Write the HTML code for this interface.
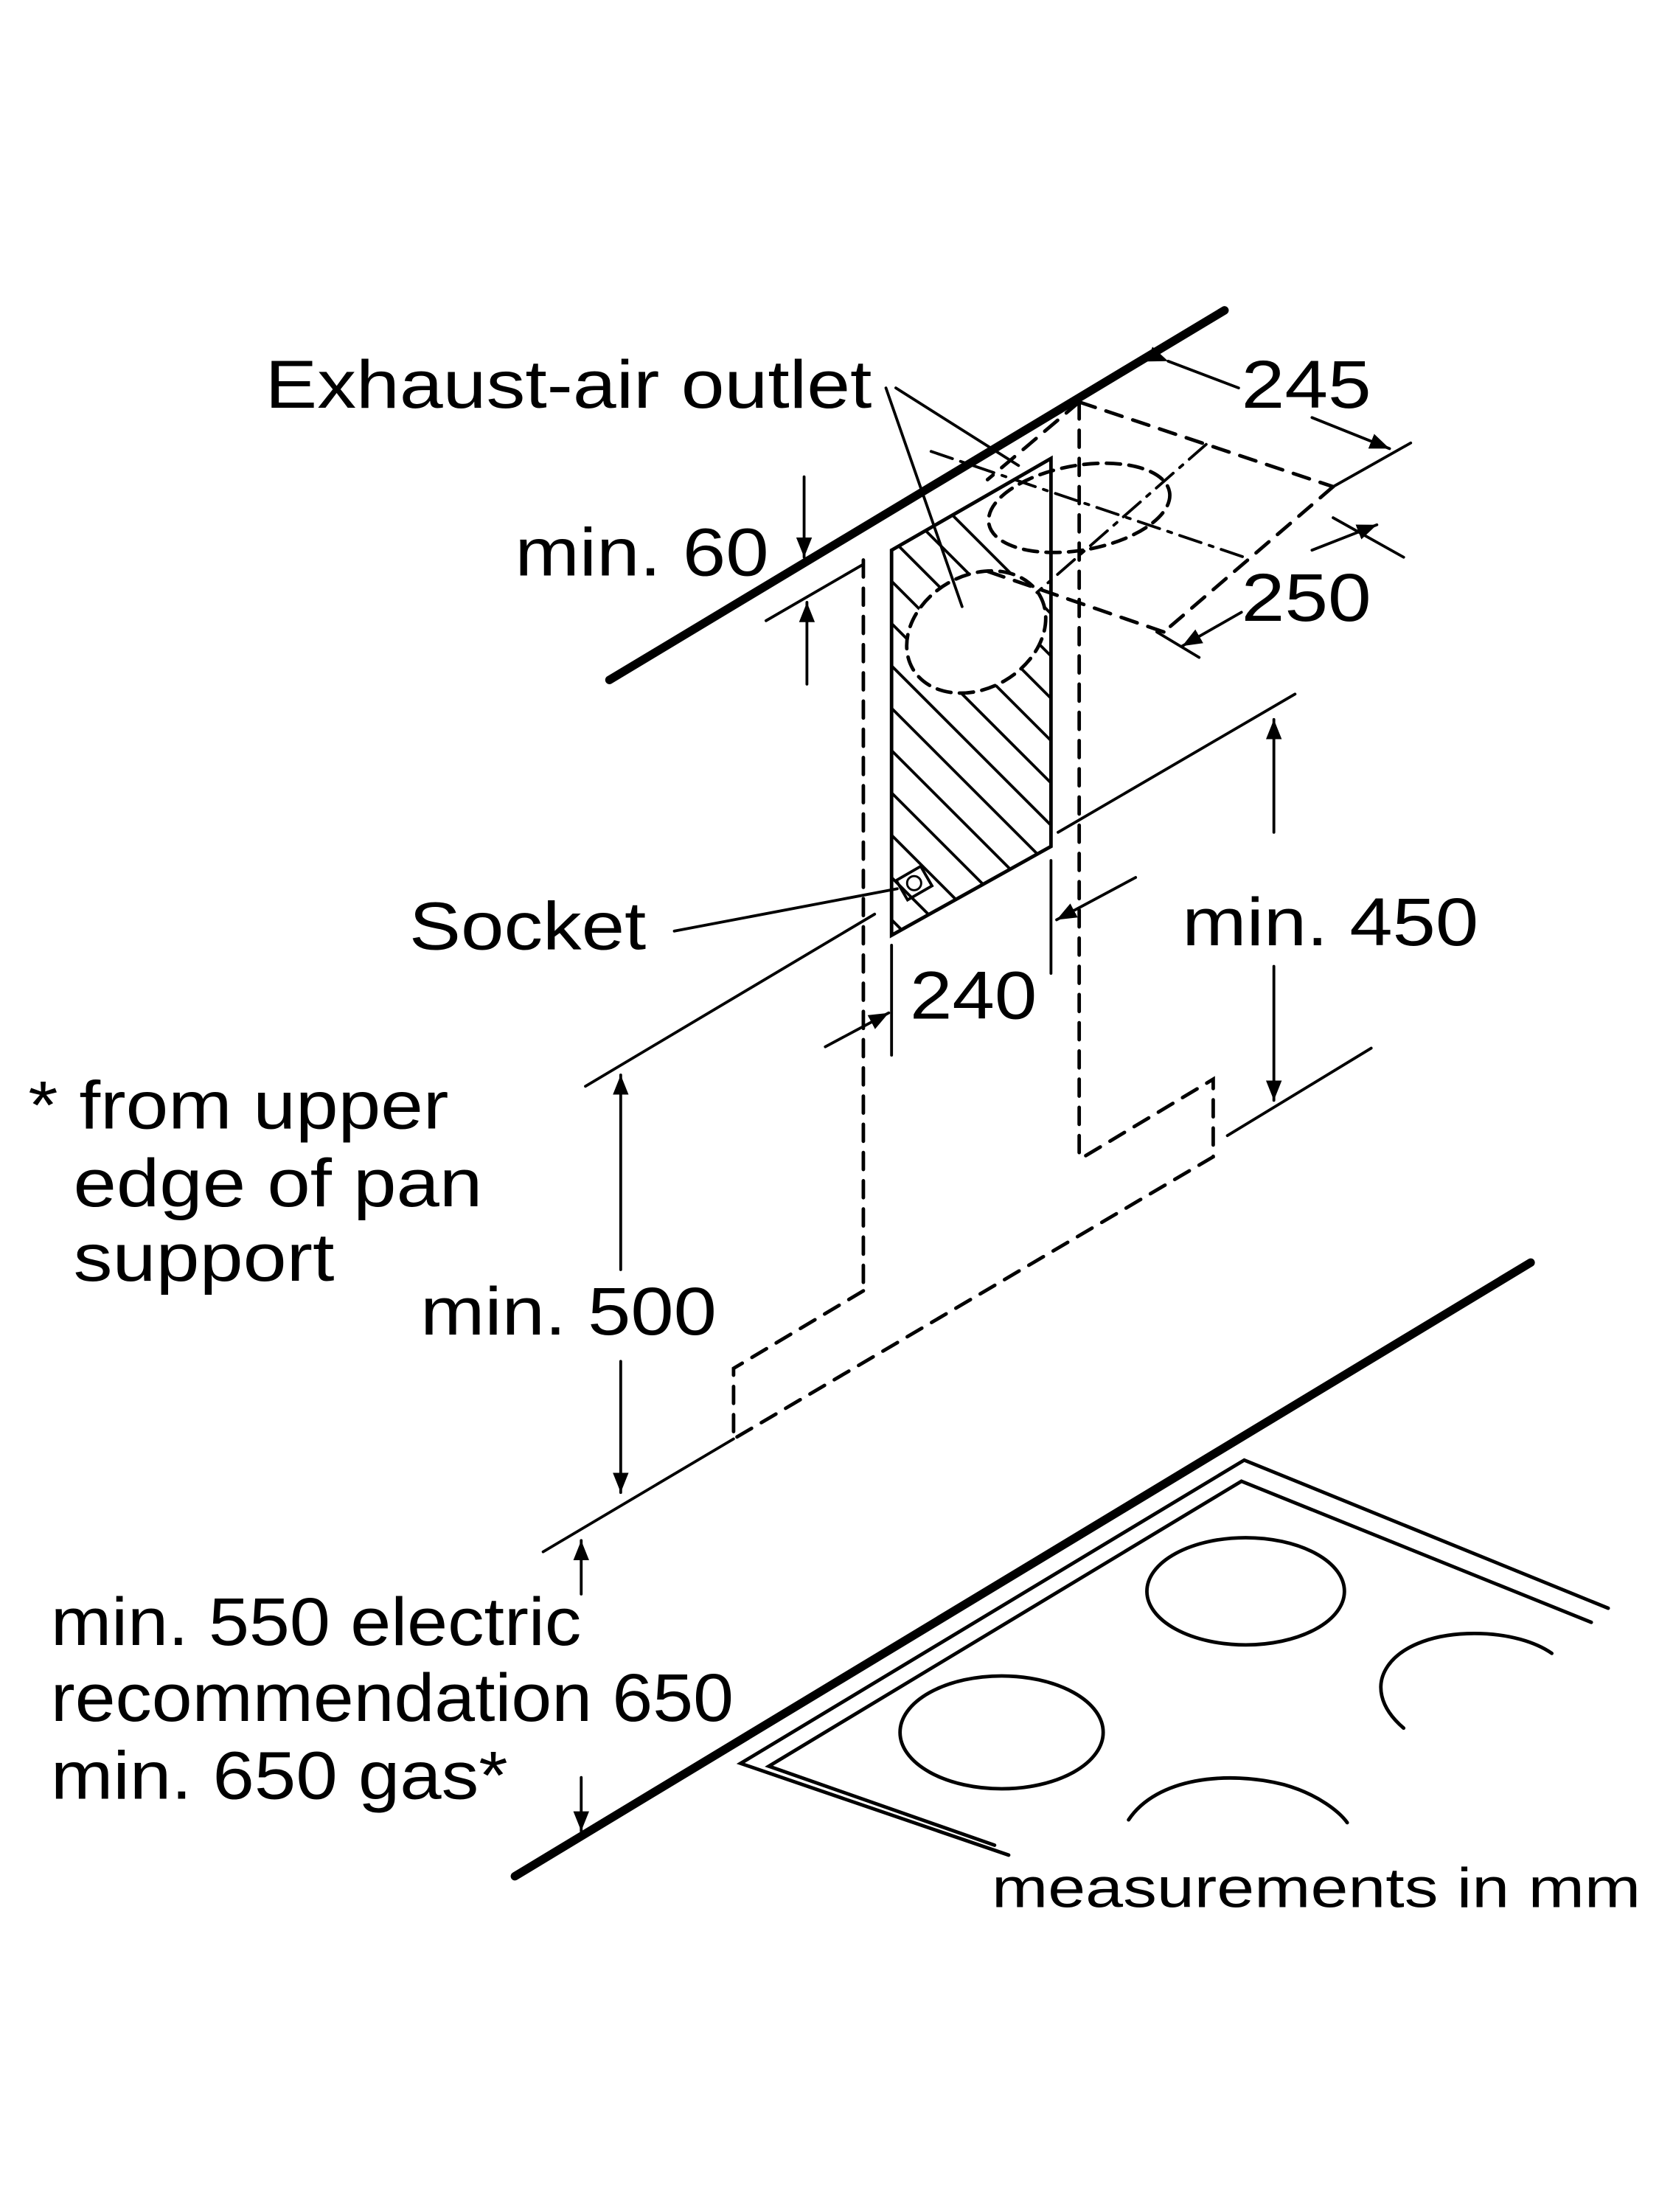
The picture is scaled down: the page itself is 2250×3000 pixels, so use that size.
<!DOCTYPE html>
<html><head><meta charset="utf-8"><style>
html,body{margin:0;padding:0;background:#fff}
svg{display:block}
text{font-family:"Liberation Sans",sans-serif;fill:#000}
</style></head><body>
<svg width="2250" height="3000" viewBox="0 0 1176 1568" xmlns="http://www.w3.org/2000/svg">
<defs>
<marker id="a" viewBox="0 0 10 10" refX="10" refY="5" markerWidth="14" markerHeight="14" markerUnits="userSpaceOnUse" orient="auto"><path d="M0,1 L10,5 L0,9 z" fill="#000"/></marker>
<clipPath id="hc"><polygon points="632,390 745,325 745,600 632,663"/></clipPath>
</defs>
<g stroke="#000" fill="none" stroke-linecap="round">
<line x1="432" y1="482" x2="868" y2="220" stroke-width="6"/>
<line x1="365" y1="1330" x2="1085" y2="895" stroke-width="6"/>
<polygon points="632,390 745,325 745,600 632,663" stroke-width="2.5"/>
<g clip-path="url(#hc)" stroke-width="2">
<line x1="600" y1="380" x2="780" y2="560"/><line x1="600" y1="410" x2="780" y2="590"/>
<line x1="600" y1="440" x2="780" y2="620"/><line x1="600" y1="470" x2="780" y2="650"/>
<line x1="600" y1="500" x2="780" y2="680"/><line x1="600" y1="530" x2="780" y2="710"/>
<line x1="600" y1="560" x2="780" y2="740"/><line x1="600" y1="590" x2="780" y2="770"/>
<line x1="600" y1="350" x2="780" y2="530"/><line x1="600" y1="320" x2="780" y2="500"/>
<line x1="600" y1="290" x2="780" y2="470"/><line x1="600" y1="620" x2="780" y2="800"/>
</g>
<ellipse cx="692" cy="448" rx="52" ry="40" transform="rotate(-30 692 448)" stroke-width="2.5" stroke-dasharray="10 6" fill="#fff"/>
<ellipse cx="765" cy="360" rx="65" ry="30" transform="rotate(-10 765 360)" stroke-width="2.5" stroke-dasharray="10 6"/>
<line x1="612" y1="397" x2="612" y2="915" stroke-width="2.5" stroke-dasharray="12 8"/>
<line x1="765" y1="285" x2="765" y2="822" stroke-width="2.5" stroke-dasharray="12 8"/>
<!-- plan parallelogram -->
<line x1="765" y1="285" x2="945" y2="345" stroke-width="2.5" stroke-dasharray="12 8"/>
<line x1="945" y1="345" x2="825" y2="448" stroke-width="2.5" stroke-dasharray="12 8"/>
<line x1="825" y1="448" x2="700" y2="405" stroke-width="2.5" stroke-dasharray="12 8"/>
<line x1="765" y1="285" x2="700" y2="340" stroke-width="2.5" stroke-dasharray="12 8"/>
<line x1="855" y1="315" x2="735" y2="420" stroke-width="2" stroke-dasharray="16 6 3 6"/>
<line x1="660" y1="320" x2="885" y2="396" stroke-width="2" stroke-dasharray="16 6 3 6"/>
<line x1="828" y1="256" x2="878" y2="275" stroke-width="2" marker-start="url(#a)"/>
<line x1="930" y1="296" x2="985" y2="318" stroke-width="2" marker-end="url(#a)"/>
<line x1="945" y1="345" x2="1000" y2="314" stroke-width="2"/>
<line x1="945" y1="367" x2="995" y2="395" stroke-width="2"/>
<line x1="930" y1="390" x2="976" y2="372" stroke-width="2" marker-end="url(#a)"/>
<line x1="880" y1="434" x2="838" y2="458" stroke-width="2" marker-end="url(#a)"/>
<line x1="820" y1="448" x2="850" y2="466" stroke-width="2"/>
<line x1="628" y1="275" x2="682" y2="430" stroke-width="2"/>
<line x1="635" y1="275" x2="722" y2="330" stroke-width="2"/>
<line x1="543" y1="440" x2="612" y2="400" stroke-width="2"/>
<line x1="570" y1="338" x2="570" y2="395" stroke-width="2" marker-end="url(#a)"/>
<line x1="572" y1="485" x2="572" y2="427" stroke-width="2" marker-end="url(#a)"/>
<line x1="750" y1="590" x2="918" y2="492" stroke-width="2"/>
<line x1="903" y1="590" x2="903" y2="510" stroke-width="2" marker-end="url(#a)"/>
<line x1="903" y1="685" x2="903" y2="780" stroke-width="2" marker-end="url(#a)"/>
<line x1="870" y1="805" x2="972" y2="743" stroke-width="2"/>
<rect x="638" y="618" width="20" height="16" transform="rotate(-30 648 626)" stroke-width="2"/>
<circle cx="648" cy="626" r="5" stroke-width="1.5"/>
<line x1="478" y1="660" x2="636" y2="630" stroke-width="2"/>
<line x1="632" y1="670" x2="632" y2="748" stroke-width="2"/>
<line x1="745" y1="610" x2="745" y2="690" stroke-width="2"/>
<line x1="585" y1="742" x2="630" y2="718" stroke-width="2" marker-end="url(#a)"/>
<line x1="805" y1="622" x2="749" y2="652" stroke-width="2" marker-end="url(#a)"/>
<line x1="415" y1="770" x2="620" y2="648" stroke-width="2"/>
<line x1="440" y1="900" x2="440" y2="762" stroke-width="2" marker-end="url(#a)"/>
<line x1="440" y1="965" x2="440" y2="1058" stroke-width="2" marker-end="url(#a)"/>
<line x1="385" y1="1100" x2="520" y2="1020" stroke-width="2"/>
<polyline points="612,915 520,970 520,1020 860,820 860,765 765,822" stroke-width="2.5" stroke-dasharray="12 8"/>
<line x1="412" y1="1130" x2="412" y2="1092" stroke-width="2" marker-end="url(#a)"/>
<line x1="412" y1="1260" x2="412" y2="1298" stroke-width="2" marker-end="url(#a)"/>
<polyline points="715,1315 525,1250 882,1035 1140,1140" stroke-width="2.5"/>
<polyline points="705,1308 545,1252 880,1050 1128,1150" stroke-width="2.5"/>
<ellipse cx="883" cy="1128" rx="70" ry="38" stroke-width="2.5"/>
<ellipse cx="710" cy="1228" rx="72" ry="40" stroke-width="2.5"/>
<path d="M995,1225 C960,1195 985,1160 1040,1158 C1070,1157 1090,1165 1100,1172" stroke-width="2.5"/>
<path d="M800,1290 C820,1260 870,1255 910,1265 C935,1272 950,1285 955,1292" stroke-width="2.5"/>
</g>
<g font-size="48">
<text x="188" y="289" textLength="430" lengthAdjust="spacingAndGlyphs">Exhaust-air outlet</text>
<text x="365" y="408" textLength="180" lengthAdjust="spacingAndGlyphs">min. 60</text>
<text x="880" y="289" textLength="92" lengthAdjust="spacingAndGlyphs">245</text>
<text x="880" y="440" textLength="92" lengthAdjust="spacingAndGlyphs">250</text>
<text x="290" y="673" textLength="168" lengthAdjust="spacingAndGlyphs">Socket</text>
<text x="838" y="670" textLength="210" lengthAdjust="spacingAndGlyphs">min. 450</text>
<text x="645" y="722" textLength="90" lengthAdjust="spacingAndGlyphs">240</text>
<text x="20" y="800" textLength="298" lengthAdjust="spacingAndGlyphs">* from upper</text>
<text x="52" y="855" textLength="290" lengthAdjust="spacingAndGlyphs">edge of pan</text>
<text x="52" y="908" textLength="185" lengthAdjust="spacingAndGlyphs">support</text>
<text x="298" y="946" textLength="210" lengthAdjust="spacingAndGlyphs">min. 500</text>
<text x="36" y="1166" textLength="376" lengthAdjust="spacingAndGlyphs">min. 550 electric</text>
<text x="36" y="1220" textLength="484" lengthAdjust="spacingAndGlyphs">recommendation 650</text>
<text x="36" y="1275" textLength="324" lengthAdjust="spacingAndGlyphs">min. 650 gas*</text>
</g>
<text x="703" y="1352" font-size="40" textLength="460" lengthAdjust="spacingAndGlyphs">measurements in mm</text>
</svg>
</body></html>
